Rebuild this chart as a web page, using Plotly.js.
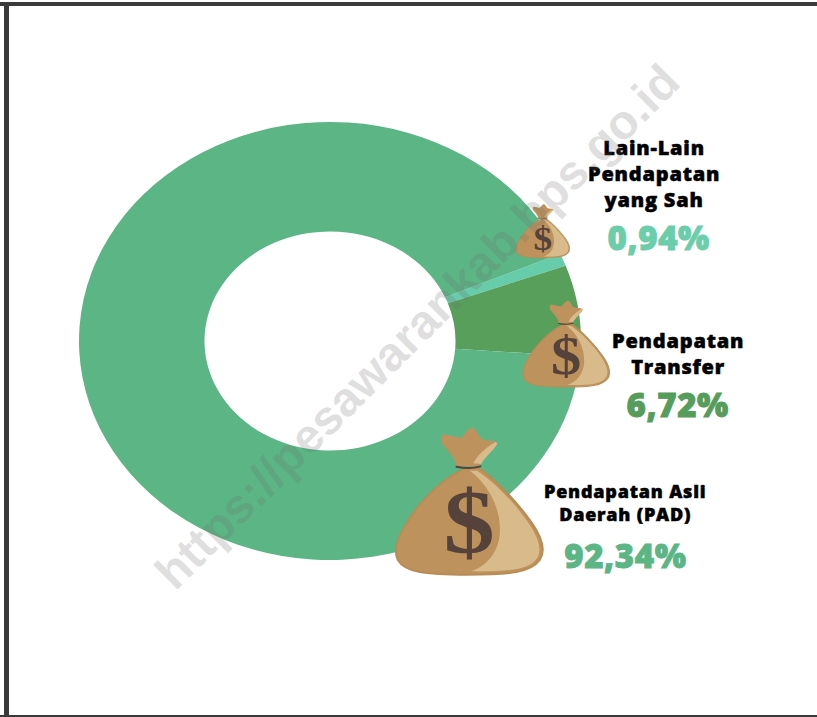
<!DOCTYPE html>
<html>
<head>
<meta charset="utf-8">
<script src="https://cdn.plot.ly/plotly-3.0.1.min.js"></script>
<style>html,body{margin:0;padding:0;background:#fff}#chart{width:817px;height:717px}</style>
</head>
<body>
<div id="chart"></div>
<script>
const categories = ["Lain-Lain Pendapatan yang Sah", "Pendapatan Transfer", "Pendapatan Asli Daerah (PAD)"];
const values = [0.94, 6.72, 92.34];
const sliceColors = ["#66ccaa", "#589f5b", "#5cb585"];
const nameLabels = ["Lain-Lain<br>Pendapatan<br>yang Sah", "Pendapatan<br>Transfer", "Pendapatan Asli<br>Daerah (PAD)"];
const valueLabels = ["0,94%", "6,72%", "92,34%"];
const valueColors = ["#6ccdab", "#569c5a", "#5cb585"];
const watermark = "https://pesawarankab.bps.go.id";

const W = 817, H = 717;
const cx = 330, cy = 341, rx = 251, ry = 219;
const px = v => v / W, py = v => 1 - v / H;

const bagSvg = `<svg xmlns="http://www.w3.org/2000/svg" viewBox="0 0 510 510" width="510" height="510">
<path d="M262 142 C200 165 120 235 72 320 C48 362 38 395 52 420 C72 455 130 464 260 464 C390 464 450 458 478 420 C496 392 484 352 455 310 C410 245 340 175 292 142 Z" fill="#bd925c"/>
<path d="M268 152 C320 190 362 260 358 340 C354 400 315 440 272 454 C390 456 448 448 470 414 C486 388 472 352 448 315 C405 250 340 185 290 152 Z" fill="#d9bb8b"/>
<path d="M262 142 C200 165 120 235 72 320 C48 362 38 395 52 420 C72 455 130 464 260 464 C390 464 450 458 478 420 C496 392 484 352 455 310 C410 245 340 175 292 142" fill="none" stroke="#b98c56" stroke-width="6"/>
<path d="M228 138 C222 108 200 92 186 72 C178 58 182 42 196 44 C215 46 232 54 245 52 C255 38 265 22 275 24 C288 26 292 45 305 58 C320 64 345 60 350 68 C352 78 325 95 310 112 C300 124 298 134 298 140 Z" fill="#bd925c"/>
<path d="M278 130 C288 112 310 85 345 66 L351 70 C340 92 312 112 302 132 Z" fill="#d9bb8b"/>
<path d="M228 140 C250 145 280 145 300 139" fill="none" stroke="#55423a" stroke-width="6" stroke-linecap="round"/>
<text x="266" y="398" text-anchor="middle" font-family="Liberation Serif, serif" font-weight="700" font-size="275" fill="#55423a" transform="translate(266 0) scale(1.12 1) translate(-266 0)">$</text>
</svg>`;
const bagUri = "data:image/svg+xml;base64," + btoa(bagSvg);

function bag(left, top, size) {
  return {source: bagUri, xref: "paper", yref: "paper", x: px(left), y: py(top),
          sizex: size / W, sizey: size / H, xanchor: "left", yanchor: "top", sizing: "stretch", layer: "above"};
}
function label(text, x, y, size, color, weight) {
  return {text, x: px(x), y: py(y), xref: "paper", yref: "paper", xanchor: "center", yanchor: "middle",
          showarrow: false, align: "center", font: {family: "Open Sans", size, color, weight}};
}
function edge(x0, y0, x1, y1, width) {
  return {type: "line", xref: "paper", yref: "paper", x0: px(x0), y0: py(y0), x1: px(x1), y1: py(y1),
          line: {color: "#3a3a3a", width}};
}

const data = [{
  type: "pie", labels: categories, values: values, hole: 0.5, sort: false, direction: "clockwise", rotation: 66.5,
  marker: {colors: sliceColors, line: {width: 0}}, textinfo: "none", hoverinfo: "label+percent", showlegend: false,
  domain: {x: [px(cx - ry), px(cx + ry)], y: [py(cy + ry), py(cy - ry)]}
}];

const layout = {
  width: W, height: H, margin: {l: 0, r: 0, t: 0, b: 0}, paper_bgcolor: "#fff", showlegend: false,
  shapes: [edge(0, 4, W, 4, 4), edge(6.5, 2, 6.5, H, 5), edge(0, 716, W, 716, 2)],
  images: [bag(380.5, 420, 170), bag(514, 296, 100), bag(510.5, 201.3, 62)],
  annotations: [
    label(nameLabels[0], 654, 174, 20, "#000", 800),
    label(valueLabels[0], 659, 237, 33, valueColors[0], 800),
    label(nameLabels[1], 678, 353, 20, "#000", 800),
    label(valueLabels[1], 678, 404, 33, valueColors[1], 800),
    label(nameLabels[2], 625, 502, 18, "#000", 800),
    label(valueLabels[2], 625, 555, 33, valueColors[2], 800),
    {text: watermark, x: px(417), y: py(326), xref: "paper", yref: "paper", xanchor: "center", yanchor: "middle",
     showarrow: false, textangle: -45,
     font: {family: "Liberation Sans", size: 48, color: "rgba(110,110,110,0.22)", weight: 700}}
  ]
};

Plotly.newPlot("chart", data, layout, {displayModeBar: false, staticPlot: true}).then(gd => {
  // The source donut is elliptical: stretch the pie layer horizontally about its centre.
  const s = rx / ry;
  gd.querySelectorAll(".pielayer").forEach(g => {
    g.setAttribute("transform", `translate(${cx},${cy}) scale(${s},1) translate(${-cx},${-cy})`);
  });
  // The source labels are an extra-heavy, slightly tracked face.
  gd.querySelectorAll(".annotation-text").forEach(t => {
    const isOpen = /Open Sans/.test(t.style.fontFamily);
    if (!isOpen) return;
    const big = parseFloat(t.style.fontSize) > 30;
    t.style.letterSpacing = big ? "0.6px" : "0.8px";
    t.style.stroke = t.style.fill;
    t.style.strokeWidth = big ? "0.9px" : "0.5px";
  });
});
</script>
</body>
</html>
